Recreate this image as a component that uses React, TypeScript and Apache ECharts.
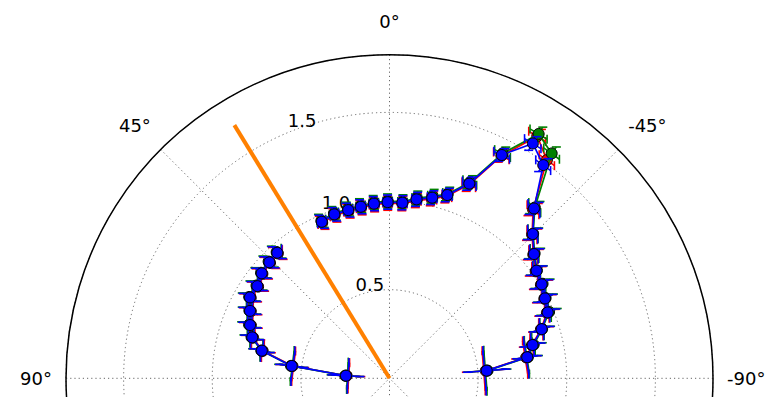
import { useEffect, useRef } from 'react';
import * as echarts from 'echarts';

// Angle of every measurement, degrees counter-clockwise from the top (null = gap)
const thetaDeg: (number | null)[] = [
  -85.5, -81.3, -76.9, -72.1, -67.4, -62.8, -58.3, -53.8, -49.3, -44.8, -40.4, -35.8, -31.4,
  -26.7, -22.3, -17.5, -13.3, -8.6, -4.2, 0.6, 5.1, 9.5, 13.8, 18.6, 23.4, null,
  41.8, 46.0, 50.6, 55.1, 59.9, 64.2, 69.1, 73.4, 77.8, 82.8, 86.6,
];
const blueR: (number | null)[] = [
  0.55, 0.786, 0.829, 0.902, 0.967, 0.986, 1.009, 1.028, 1.075, 1.147, 1.258, 1.483, 1.552,
  1.41, 1.187, 1.084, 1.047, 1.021, 0.993, 0.994, 0.989, 0.981, 0.977, 0.976, 0.962, null,
  0.95, 0.942, 0.933, 0.909, 0.91, 0.874, 0.842, 0.808, 0.737, 0.556, 0.246,
];
const greenR: (number | null)[] = [
  0.555, 0.79, 0.835, 0.905, 0.975, 0.99, 1.015, 1.03, 1.08, 1.15, 1.265, 1.564, 1.615,
  1.42, 1.195, 1.09, 1.055, 1.028, 0.998, 1.0, 0.995, 0.987, 0.983, 0.982, 0.968, null,
  0.955, 0.948, 0.938, 0.915, 0.915, 0.878, 0.848, 0.812, 0.74, 0.56, 0.25,
];
const redR: (number | null)[] = [
  0.545, 0.78, 0.825, 0.898, 0.962, 0.982, 1.004, 1.022, 1.07, 1.142, 1.25, 1.518, 1.6,
  1.405, 1.18, 1.078, 1.04, 1.014, 0.988, 0.988, 0.983, 0.975, 0.971, 0.97, 0.956, null,
  0.945, 0.937, 0.928, 0.904, 0.905, 0.869, 0.837, 0.803, 0.732, 0.552, 0.242,
];
// radial and angular (degrees) error of each measurement
const rErr: (number | null)[] = [
  0.11, 0.06, 0.05, 0.05, 0.05, 0.05, 0.05, 0.045, 0.045, 0.045, 0.045, 0.045, 0.045,
  0.04, 0.04, 0.04, 0.04, 0.04, 0.04, 0.04, 0.04, 0.04, 0.04, 0.04, 0.04, null,
  0.045, 0.045, 0.045, 0.045, 0.045, 0.045, 0.045, 0.045, 0.05, 0.07, 0.08,
];
const thetaErrDeg: (number | null)[] = [
  12, 7, 3, 2.5, 2, 2, 2, 2, 2, 2, 2, 2, 2,
  2, 2, 1.5, 1.5, 1.5, 1.5, 1.5, 1.5, 1.5, 1.5, 1.5, 1.5, null,
  2, 2, 2, 2, 2, 2, 2, 2.5, 3, 9, 18,
];
// orange reference direction
const orangeR = [0, 1.675];
const orangeTheta = [31.5, 31.5];

const rMax = 1.825;
const ringStep = 0.5;
const angleStep = 45;

const FONT = 'DejaVu Sans';

function lineData(rs: (number | null)[]) {
  return thetaDeg.map((t, i) => (t === null || rs[i] === null ? ['-', '-'] : [rs[i], t]));
}
function errData(rs: (number | null)[]) {
  const out: number[][] = [];
  thetaDeg.forEach((t, i) => {
    if (t !== null && rs[i] !== null) out.push([rs[i] as number, t, rErr[i] as number, thetaErrDeg[i] as number]);
  });
  return out;
}

function errRender(color: string) {
  return (_params: any, api: any) => {
    const r = api.value(0);
    const t = api.value(1);
    const er = api.value(2);
    const et = api.value(3);
    const a = api.coord([r - er, t]);
    const b = api.coord([r + er, t]);
    const c = api.coord([r, t - et]);
    const d = api.coord([r, t + et]);
    const cap = 4.5;
    const style = { stroke: color, lineWidth: 1.6, fill: 'none' };
    const seg = (x1: number, y1: number, x2: number, y2: number) => ({
      type: 'line',
      shape: { x1, y1, x2, y2 },
      style,
    });
    return {
      type: 'group',
      children: [
        seg(a[0], a[1], b[0], b[1]),
        seg(c[0], c[1], d[0], d[1]),
        seg(a[0] - cap, a[1], a[0] + cap, a[1]),
        seg(b[0] - cap, b[1], b[0] + cap, b[1]),
        seg(c[0], c[1] - cap, c[0], c[1] + cap),
        seg(d[0], d[1] - cap, d[0], d[1] + cap),
      ],
    };
  };
}

function makeSeries(name: string, color: string, rs: (number | null)[], z: number) {
  return [
    {
      type: 'custom',
      name: name + ' err',
      coordinateSystem: 'polar',
      polarIndex: 0,
      z: z,
      data: errData(rs),
      renderItem: errRender(color),
      silent: true,
    },
    {
      type: 'line',
      name,
      coordinateSystem: 'polar',
      polarIndex: 0,
      z: z + 1,
      data: lineData(rs),
      connectNulls: false,
      symbol: 'circle',
      symbolSize: 11,
      showSymbol: true,
      lineStyle: { color, width: 1.7 },
      itemStyle: { color, borderColor: '#000', borderWidth: 1 },
      clip: false,
    },
  ];
}

export default function App() {
  const ref = useRef<HTMLDivElement>(null);
  useEffect(() => {
    if (!ref.current) return;
    const chart = echarts.init(ref.current, undefined, { renderer: 'svg' });
    const cx = 389.5;
    const cy = 378.3;
    const rad = 323.5;
    const labelStyle = { fontSize: 18, fontFamily: FONT, color: '#000' };
    chart.setOption({
      animation: false,
      textStyle: { fontFamily: FONT },
      polar: [
        { center: [cx, cy], radius: rad },
        { center: [cx, cy], radius: rad },
      ],
      angleAxis: [
        {
          polarIndex: 0,
          type: 'value',
          min: -180,
          max: 180,
          interval: angleStep,
          startAngle: 270,
          clockwise: false,
          axisLine: { show: true, lineStyle: { color: '#000', width: 1.5 } },
          axisTick: { show: false },
          axisLabel: {
            show: true,
            margin: 14,
            ...labelStyle,
            formatter: (v: number) => {
              if (Math.abs(v) > 90) return '';
              if (v === 0) return '{t|0\u00b0}';
              if (Math.abs(v) === 45) return `{d|${v}\u00b0}`;
              return `${v}\u00b0`;
            },
            rich: {
              t: { ...labelStyle, padding: [0, 0, 10, 0] },
              d: { ...labelStyle, padding: [0, 0, 5, 0] },
            },
          },
          splitLine: { show: true, lineStyle: { color: '#666', width: 1, type: [1.2, 3] } },
        },
        {
          polarIndex: 1,
          type: 'value',
          min: 0,
          max: 360,
          startAngle: 112.5,
          show: false,
        },
      ],
      radiusAxis: [
        {
          polarIndex: 0,
          type: 'value',
          min: 0,
          max: rMax,
          interval: ringStep,
          axisLine: { show: false },
          axisTick: { show: false },
          axisLabel: { show: false },
          splitLine: { show: true, lineStyle: { color: '#666', width: 1, type: [1.2, 3] } },
        },
        {
          polarIndex: 1,
          type: 'value',
          min: 0,
          max: rMax,
          interval: ringStep,
          axisLine: { show: false },
          axisTick: { show: false },
          splitLine: { show: false },
          axisLabel: {
            show: true,
            margin: 0,
            align: 'left',
            verticalAlign: 'bottom',
            padding: [0, 0, 3, 0],
            ...labelStyle,
            formatter: (v: number) => (v > 0 && v < rMax - 0.1 ? v.toFixed(1) : ''),
          },
        },
      ],
      series: [
        ...makeSeries('red', '#ff0000', redR, 1),
        ...makeSeries('green', '#008000', greenR, 3),
        ...makeSeries('blue', '#0000ff', blueR, 5),
        {
          type: 'line',
          name: 'direction',
          coordinateSystem: 'polar',
          polarIndex: 0,
          z: 8,
          data: orangeR.map((r, i) => [r, orangeTheta[i]]),
          showSymbol: false,
          symbol: 'none',
          lineStyle: { color: '#ff8000', width: 4 },
          clip: false,
        },
      ],
    });
    return () => chart.dispose();
  }, []);
  return (
    <div
      ref={ref}
      style={{ position: 'absolute', left: 0, top: 0, width: 769, height: 397, overflow: 'hidden', background: '#fff' }}
    />
  );
}
